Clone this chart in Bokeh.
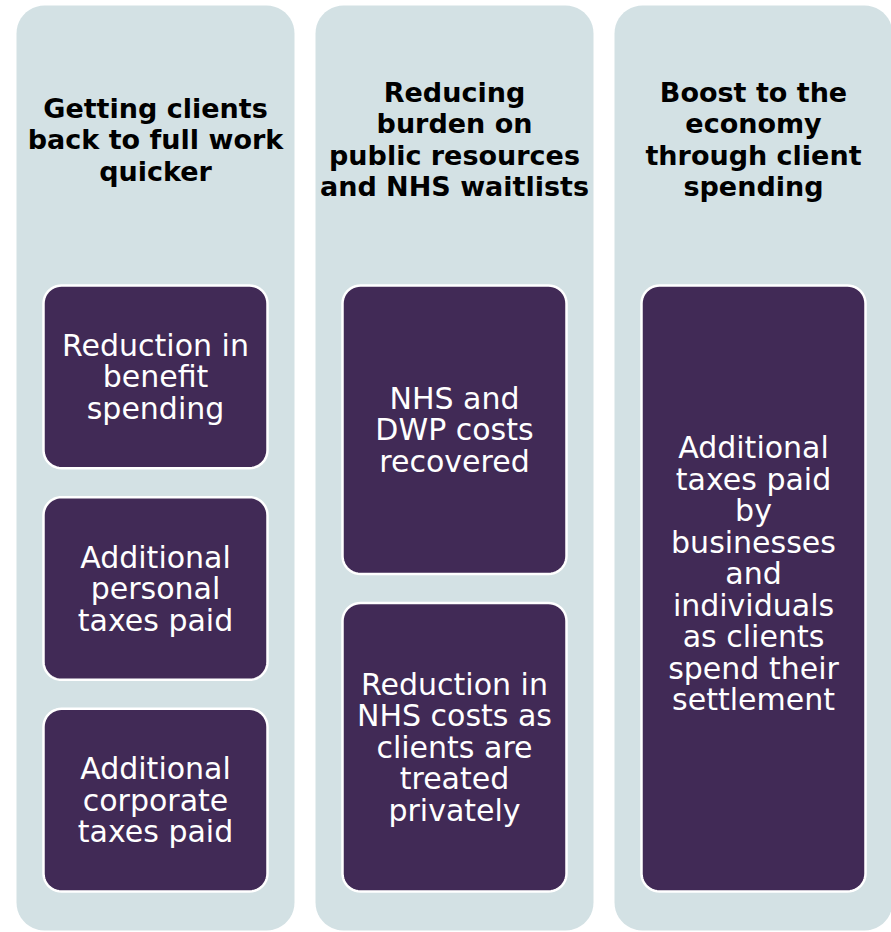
import numpy as np
from bokeh.plotting import figure
from bokeh.models import Range1d
from bokeh.core.properties import value
from bokeh.embed import file_html
from bokeh.resources import INLINE

# ---- content ----
headings = [
    ["Getting clients", "back to full work", "quicker"],
    ["Reducing", "burden on", "public resources", "and NHS waitlists"],
    ["Boost to the", "economy", "through client", "spending"],
]
boxes = [
    [["Reduction in", "benefit", "spending"],
     ["Additional", "personal", "taxes paid"],
     ["Additional", "corporate", "taxes paid"]],
    [["NHS and", "DWP costs", "recovered"],
     ["Reduction in", "NHS costs as", "clients are", "treated", "privately"]],
    [["Additional", "taxes paid", "by", "businesses", "and", "individuals",
      "as clients", "spend their", "settlement"]],
]

# ---- layout (page pixel coords) ----
COL_X0, COL_W, COL_GAP = 16, 278, 21
COL_Y0, COL_Y1, COL_R = 5, 930, 28
BOX_INSET, BOX_Y0, BOX_Y1, BOX_GAP, BOX_R = 27, 285, 891, 29, 18
HEAD_CY, LINE_H = 139, 31.5
TEXT_SHIFT = [[0, 0, 0], [0, 0], [-15]]

COL_FILL = "#D3E1E4"
BOX_FILL = "#412A56"


def rounded(x0, y0, x1, y1, r, n=12):
    xs, ys = [], []
    corners = [(x1 - r, y0 + r, -np.pi / 2, 0), (x1 - r, y1 - r, 0, np.pi / 2),
               (x0 + r, y1 - r, np.pi / 2, np.pi), (x0 + r, y0 + r, np.pi, 1.5 * np.pi)]
    for cx, cy, a0, a1 in corners:
        t = np.linspace(a0, a1, n)
        xs += list(cx + r * np.cos(t))
        ys += list(cy + r * np.sin(t))
    return xs, ys


p = figure(width=891, height=932, output_backend="svg", toolbar_location=None,
           x_range=Range1d(0, 891), y_range=Range1d(932, 0), min_border=0)
p.axis.visible = False
p.grid.visible = False
p.outline_line_color = None
p.background_fill_color = "white"
p.border_fill_color = "white"

cxs, cys, bxs, bys = [], [], [], []
tx, ty, tt = [], [], []
hx, hy, ht = [], [], []
for i, (head, blist) in enumerate(zip(headings, boxes)):
    x0 = COL_X0 + i * (COL_W + COL_GAP)
    x1 = x0 + COL_W
    xs, ys = rounded(x0, COL_Y0, x1, COL_Y1, COL_R)
    cxs.append(xs); cys.append(ys)
    cx = (x0 + x1) / 2
    for j, line in enumerate(head):
        hx.append(cx)
        hy.append(HEAD_CY + (j - (len(head) - 1) / 2) * LINE_H)
        ht.append(line)
    nb = len(blist)
    bh = (BOX_Y1 - BOX_Y0 - (nb - 1) * BOX_GAP) / nb
    for k, lines in enumerate(blist):
        by0 = BOX_Y0 + k * (bh + BOX_GAP)
        by1 = by0 + bh
        xs, ys = rounded(x0 + BOX_INSET, by0, x1 - BOX_INSET, by1, BOX_R)
        bxs.append(xs); bys.append(ys)
        bcy = (by0 + by1) / 2 + TEXT_SHIFT[i][k]
        for j, line in enumerate(lines):
            tx.append(cx)
            ty.append(bcy + (j - (len(lines) - 1) / 2) * LINE_H)
            tt.append(line)

p.patches(cxs, cys, fill_color=COL_FILL, line_color=None)
p.patches(bxs, bys, fill_color=BOX_FILL, line_color="white", line_width=2.5)

p.text(x=hx, y=hy, text=ht, text_align="center", text_baseline="middle",
       text_font=value("DejaVu Sans"), text_font_style="bold",
       text_font_size="27px", text_color="black")
p.text(x=tx, y=ty, text=tt, text_align="center", text_baseline="middle",
       text_font=value("DejaVu Sans"), text_font_size="30px", text_color="white")

open("out.html", "w").write(file_html(p, INLINE))
